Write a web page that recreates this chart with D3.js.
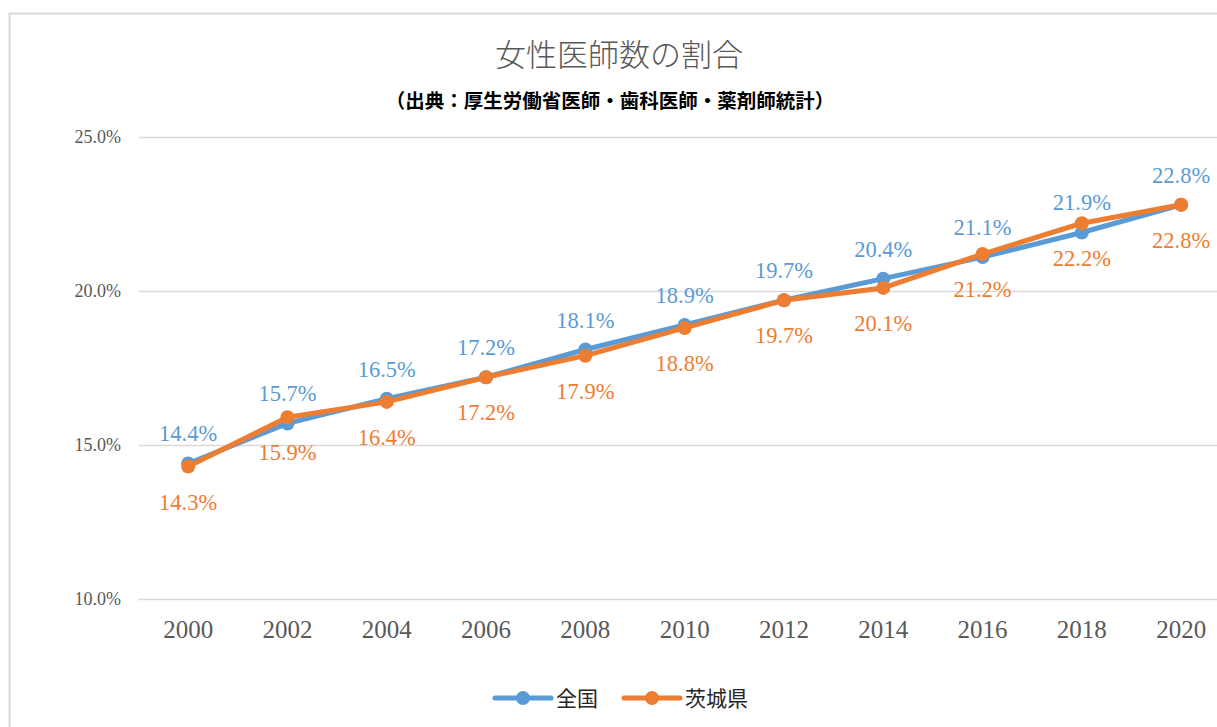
<!DOCTYPE html>
<html>
<head>
<meta charset="utf-8">
<script src="https://cdn.jsdelivr.net/npm/d3@7"></script>
<style>
  body { margin: 0; background: #fff; overflow: hidden; }
  svg { display: block; }
</style>
</head>
<body>
<div id="chart"></div>
<script>
// data
const years = ["2000", "2002", "2004", "2006", "2008", "2010", "2012", "2014", "2016", "2018", "2020"];
const national = [14.4, 15.7, 16.5, 17.2, 18.1, 18.9, 19.7, 20.4, 21.1, 21.9, 22.8];
const ibaraki = [14.3, 15.9, 16.4, 17.2, 17.9, 18.8, 19.7, 20.1, 21.2, 22.2, 22.8];
const yTicks = [10, 15, 20, 25];

const series = [
    { name: "全国", values: national, color: "#5B9BD5", labelDy: -22 },
    { name: "茨城県", values: ibaraki, color: "#ED7D31", labelDy: 43 }
];

const width = 1217, height = 727;
const serif = "'Liberation Serif', 'DejaVu Serif', serif";
const jp = "'Noto Sans CJK JP', sans-serif";

const svg = d3.select("#chart").append("svg")
    .attr("width", width)
    .attr("height", height);

// outer chart frame (cut off at right and bottom)
svg.append("rect")
    .attr("x", 9.5).attr("y", 13.5)
    .attr("width", 1300).attr("height", 800)
    .attr("fill", "none")
    .attr("stroke", "#d9d9d9")
    .attr("stroke-width", 2);

const x = d3.scaleBand()
    .domain(years)
    .range([138.5, 138.5 + 99.3 * years.length]);

const y = d3.scaleLinear()
    .domain([10, 25])
    .range([599, 137]);

// gridlines
svg.append("g")
    .selectAll("line")
    .data(yTicks)
    .enter()
    .append("line")
    .attr("x1", 138.5)
    .attr("x2", width + 20)
    .attr("y1", d => Math.round(y(d)) + 0.5)
    .attr("y2", d => Math.round(y(d)) + 0.5)
    .attr("stroke", "#d9d9d9")
    .attr("stroke-width", 1.5);

// y axis labels
const yAxis = svg.append("g")
    .attr("transform", "translate(121,0)")
    .call(d3.axisLeft(y).tickValues(yTicks).tickSize(0).tickPadding(0).tickFormat(d => d.toFixed(1) + "%"));
yAxis.select(".domain").remove();
yAxis.selectAll("text")
    .style("font-family", serif)
    .style("font-size", "18px")
    .attr("fill", "#595959");

// x axis labels
const xAxis = svg.append("g")
    .attr("transform", "translate(0,599)")
    .call(d3.axisBottom(x).tickSize(0).tickPadding(21));
xAxis.select(".domain").remove();
xAxis.selectAll("text")
    .style("font-family", serif)
    .style("font-size", "25px")
    .attr("fill", "#595959");

const cx = i => x(years[i]) + x.bandwidth() / 2;

const line = d3.line()
    .x((d, i) => cx(i))
    .y(d => y(d));

series.forEach(s => {
    svg.append("path")
        .datum(s.values)
        .attr("d", line)
        .attr("fill", "none")
        .attr("stroke", s.color)
        .attr("stroke-width", 5)
        .attr("stroke-linejoin", "round")
        .attr("stroke-linecap", "round");

    svg.append("g")
        .selectAll("circle")
        .data(s.values)
        .enter()
        .append("circle")
        .attr("cx", (d, i) => cx(i))
        .attr("cy", d => y(d))
        .attr("r", 7)
        .attr("fill", s.color);
});

// data labels
series.forEach(s => {
    svg.append("g")
        .selectAll("text")
        .data(s.values)
        .enter()
        .append("text")
        .attr("x", (d, i) => cx(i))
        .attr("y", d => y(d) + s.labelDy)
        .attr("text-anchor", "middle")
        .style("font-family", serif)
        .style("font-size", "22.5px")
        .attr("fill", s.color)
        .text(d => d.toFixed(1) + "%");
});

// titles
svg.append("text")
    .attr("x", 619).attr("y", 66)
    .attr("text-anchor", "middle")
    .style("font-family", jp)
    .style("font-weight", 300)
    .style("font-size", "31px")
    .attr("fill", "#595959")
    .text("女性医師数の割合");

svg.append("text")
    .attr("x", 610).attr("y", 108)
    .attr("text-anchor", "middle")
    .style("font-family", jp)
    .style("font-weight", 700)
    .style("font-size", "19.5px")
    .attr("fill", "#000")
    .text("（出典：厚生労働省医師・歯科医師・薬剤師統計）");

// legend
const legend = svg.append("g").attr("transform", "translate(495,698)");
const legendX = [0, 129];
series.forEach((s, i) => {
    const g = legend.append("g").attr("transform", `translate(${legendX[i]},0)`);
    g.append("line")
        .attr("x1", 0).attr("x2", 56)
        .attr("stroke", s.color)
        .attr("stroke-width", 5)
        .attr("stroke-linecap", "round");
    g.append("circle")
        .attr("cx", 28).attr("r", 7)
        .attr("fill", s.color);
    g.append("text")
        .attr("x", 61).attr("y", 8)
        .style("font-family", jp)
        .style("font-size", "21px")
        .attr("fill", "#262626")
        .text(s.name);
});
</script>
</body>
</html>
